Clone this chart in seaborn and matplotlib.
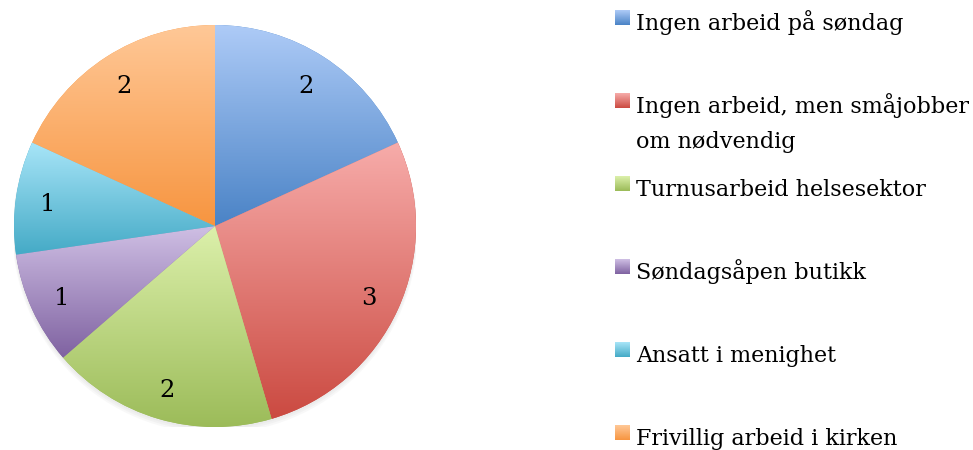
import numpy as np
import matplotlib
matplotlib.use("Agg")
import matplotlib.pyplot as plt
import matplotlib.colors as mcolors
from matplotlib.patches import Circle
import seaborn as sns

# --- DATA ---
labels = [
    "Ingen arbeid på søndag",
    "Ingen arbeid, men småjobber\nom nødvendig",
    "Turnusarbeid helsesektor",
    "Søndagsåpen butikk",
    "Ansatt i menighet",
    "Frivillig arbeid i kirken",
]
counts = [2, 3, 2, 1, 1, 2]

# gradient colours (light top, dark bottom) per slice
top_colors = ["#AECBF7", "#F7ACAA", "#DCF0AB", "#CFBFE4", "#A8E5F8", "#FFC897"]
bottom_colors = ["#4A83C6", "#CB4A41", "#9BBB58", "#7F62A1", "#44AAC6", "#F79540"]

sns.set_theme(style="white")
plt.rcParams['font.family'] = ['DejaVu Serif']

W, H = 973, 450
fig = plt.figure(figsize=(W / 100, H / 100), dpi=100)
fig.patch.set_facecolor("white")

# pie axes: centre (215, 226) px, radius 201 px
cx, cy, r = 215, 226, 201
ax = fig.add_axes([(cx - r) / W, (H - cy - r) / H, 2 * r / W, 2 * r / H])
ax.set_aspect("equal")
ax.axis("off")

# soft shadow under the pie
for k in range(3):
    ax.add_patch(Circle((0.0, -0.012 - 0.006 * k), 1.0 + 0.004 * k,
                        facecolor="#808080", edgecolor="none", alpha=0.05, zorder=0))

wedges, texts = ax.pie(
    counts, startangle=90, counterclock=False, radius=1.0,
    labels=[str(c) for c in counts], labeldistance=0.84,
    wedgeprops=dict(linewidth=0, edgecolor="none"),
    textprops=dict(fontsize=17.5, color="black"),
)
for t in texts:
    t.set_zorder(5)
    t.set_ha("center")
    t.set_va("center_baseline")


def gradient_img(top, bottom, n=256):
    c0 = np.array(mcolors.to_rgb(top))
    c1 = np.array(mcolors.to_rgb(bottom))
    t = np.linspace(0, 1, n)[:, None]
    return (c0 + (c1 - c0) * t)[:, None, :]


for w, c0, c1 in zip(wedges, top_colors, bottom_colors):
    w.set_facecolor(c1)
    w.set_zorder(1)
    verts = w.get_patch_transform().transform(w.get_path().vertices)
    x0, x1 = verts[:, 0].min(), verts[:, 0].max()
    y0, y1 = verts[:, 1].min(), verts[:, 1].max()
    im = ax.imshow(gradient_img(c0, c1), extent=[x0, x1, y0, y1],
                   origin="upper", aspect="auto", interpolation="bilinear", zorder=2)
    im.set_clip_path(w)
ax.set_xlim(-1.0, 1.0)
ax.set_ylim(-1.0, 1.0)

# --- legend (Excel style, fixed spacing per entry) ---
lax = fig.add_axes([0, 0, 1, 1])
lax.axis("off")
first_base = 30
step = 83
line_h = 35
sq = 15
for i, (lab, c0, c1) in enumerate(zip(labels, top_colors, bottom_colors)):
    base = first_base + i * step
    lax.imshow(gradient_img(c0, c1, 64), extent=[615, 615 + sq, base - 5, base - 5 - sq],
               aspect="auto", interpolation="bilinear", zorder=2)
    for j, line in enumerate(lab.split("\n")):
        lax.text(636, base + j * line_h, line, fontsize=16, va="baseline", ha="left",
                 color="black")
lax.set_xlim(0, W)
lax.set_ylim(H, 0)

fig.savefig("out.png", dpi=100, facecolor="white")
